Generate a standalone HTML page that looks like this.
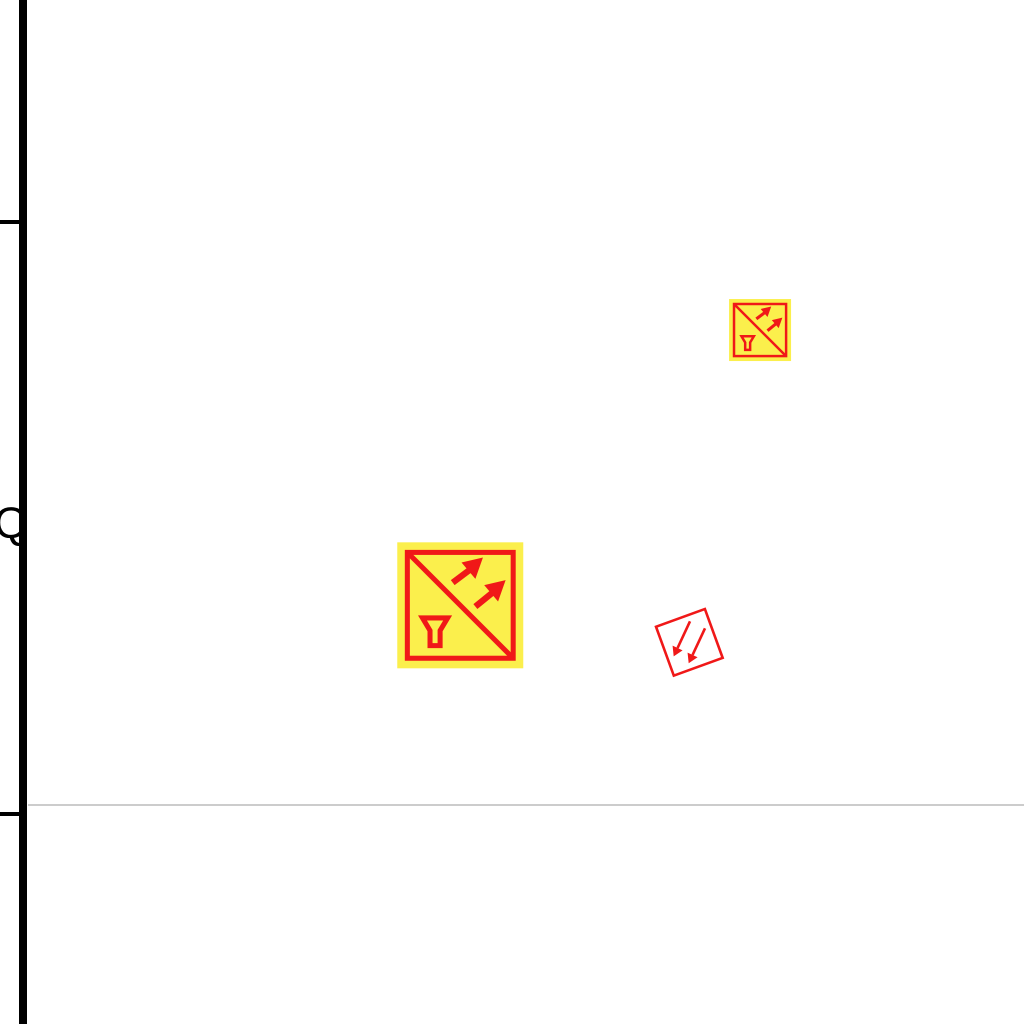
<!DOCTYPE html>
<html><head><meta charset="utf-8"><style>
html,body{margin:0;padding:0;background:#fff;}
svg{display:block;}
</style></head><body>
<svg id="chart" width="1024" height="1024" viewBox="0 0 1024 1024" xmlns="http://www.w3.org/2000/svg">
  <rect width="1024" height="1024" fill="#fff"/>
  <line x1="28" y1="805" x2="1024" y2="805" stroke="#bbb" stroke-width="1.5"/>
  <rect x="19" y="0" width="8" height="1024" fill="#000"/>
  <text x="-6" y="538" font-family="Liberation Sans, sans-serif" font-size="44" fill="#000">Q</text>
  <g id="ticks"></g>
  <g id="marks"></g>
</svg>
<script>
const yTicks = [80, 0];
const xVals = [0.434, 0.735, 0.664];
const yVals = [28.2, 65.4, 23.2];
const sizes = [126, 62, 65];
const angles = [0, 0, -20];
const kinds = ['filled', 'filled', 'outline'];

const sx = v => 28 + v * 996;
const sy = v => 814 - v * 7.4;
const NS = 'http://www.w3.org/2000/svg';
function mk(tag, attrs, parent){
  const e = document.createElementNS(NS, tag);
  for (const k in attrs) e.setAttribute(k, attrs[k]);
  parent.appendChild(e);
  return e;
}
const tg = document.getElementById('ticks');
yTicks.forEach(t => {
  const r = mk('rect', {x:0, y:sy(t)-2, width:20, height:4, fill:'#000'}, tg);
  
  
});
const mg = document.getElementById('marks');
xVals.forEach((xv, i) => {
  const s = sizes[i] / 100;
  const g = mk('g', {transform:`translate(${sx(xv)},${sy(yVals[i])}) rotate(${angles[i]}) scale(${s})`}, mg);
  
  
  const red = '#f01818';
  if (kinds[i] === 'filled') {
    mk('rect', {x:-50, y:-50, width:100, height:100, fill:'#fbef4c'}, g);
    mk('rect', {x:-42, y:-42, width:84, height:84, fill:'none', stroke:red, 'stroke-width':4}, g);
    mk('line', {x1:-42, y1:-42, x2:42, y2:42, stroke:red, 'stroke-width':4}, g);
    mk('line', {x1:-6, y1:-18, x2:10, y2:-30, stroke:red, 'stroke-width':5}, g);
    mk('polygon', {points:'18,-38 1,-34 12,-21', fill:red}, g);
    mk('line', {x1:12, y1:1, x2:28, y2:-12, stroke:red, 'stroke-width':5}, g);
    mk('polygon', {points:'36,-20 19,-16 30,-3', fill:red}, g);
    mk('path', {d:'M-30,10 L-10,10 L-16,20 L-16,32 L-24,32 L-24,20 Z', fill:'none', stroke:red, 'stroke-width':4, 'stroke-linejoin':'miter'}, g);
  } else {
    mk('rect', {x:-40, y:-40, width:80, height:80, fill:'none', stroke:red, 'stroke-width':4}, g);
    mk('line', {x1:12, y1:-30, x2:-20, y2:2, stroke:red, 'stroke-width':4}, g);
    mk('polygon', {points:'-30,12 -26,-4 -14,8', fill:red}, g);
    mk('line', {x1:30, y1:-12, x2:-2, y2:20, stroke:red, 'stroke-width':4}, g);
    mk('polygon', {points:'-12,30 -8,14 4,26', fill:red}, g);
  }
});
</script>
</body></html>
